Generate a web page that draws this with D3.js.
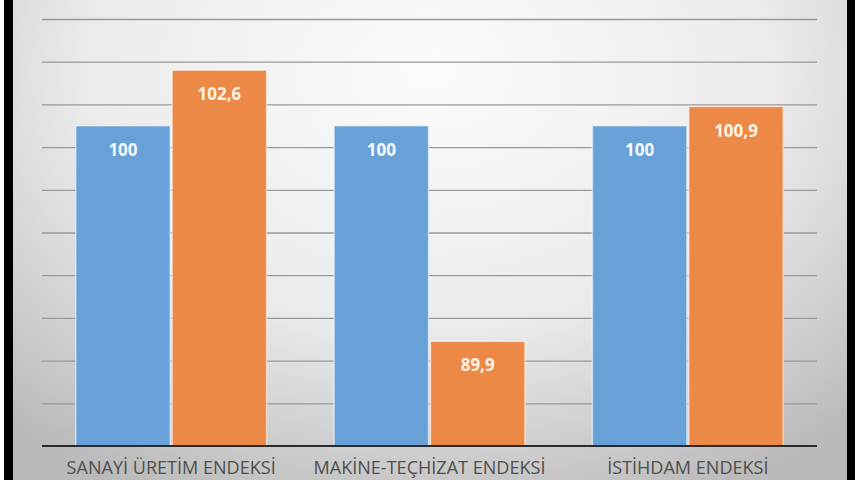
<!DOCTYPE html>
<html>
<head>
<meta charset="utf-8">
<script src="https://cdn.jsdelivr.net/npm/d3@7"></script>
<style>
  html, body { margin: 0; padding: 0; background: #fff; }
  svg { display: block; }
</style>
</head>
<body>
<div id="chart"></div>
<script>
// chart data
var categories = ["SANAYİ ÜRETİM ENDEKSİ", "MAKİNE-TEÇHİZAT ENDEKSİ", "İSTİHDAM ENDEKSİ"];
var seriesNames = ["baz", "güncel"];
var baseValues = [100, 100, 100];
var currentValues = [102.6, 89.9, 100.9];
var yTicks = [87, 89, 91, 93, 95, 97, 99, 101, 103, 105];

var width = 860, height = 480;
var margin = {top: 19, right: 43, bottom: 34, left: 42};

var svg = d3.select("#chart").append("svg")
    .attr("width", width)
    .attr("height", height);

// background gradient
var defs = svg.append("defs");
var grad = defs.append("radialGradient")
    .attr("id", "bg")
    .attr("cx", "50%").attr("cy", "15%")
    .attr("r", "75%")
    .attr("gradientTransform", "translate(0.5,0.15) scale(1,1.3) translate(-0.5,-0.15)");
grad.append("stop").attr("offset", "0%").attr("stop-color", "#fbfbfb");
grad.append("stop").attr("offset", "55%").attr("stop-color", "#ebebeb");
grad.append("stop").attr("offset", "100%").attr("stop-color", "#bababa");

svg.append("rect")
    .attr("x", 13).attr("y", 0)
    .attr("width", 834).attr("height", height)
    .attr("fill", "url(#bg)");

// black side borders
svg.append("rect").attr("x", 4).attr("y", 0).attr("width", 9).attr("height", height).attr("fill", "#000");
svg.append("rect").attr("x", 847).attr("y", 0).attr("width", 8).attr("height", height).attr("fill", "#000");

var x0 = d3.scaleBand()
    .domain(categories)
    .range([margin.left, width - margin.right])
    .padding(0);

var x1 = d3.scaleBand()
    .domain(seriesNames)
    .range([0, x0.bandwidth()])
    .paddingInner(0.02)
    .paddingOuter(0.35);

var y = d3.scaleLinear()
    .domain([85, 105])
    .range([height - margin.bottom, margin.top]);

// gridlines
var grid = svg.append("g")
    .attr("transform", "translate(" + margin.left + ",0)")
    .call(d3.axisLeft(y)
      .tickValues(yTicks)
      .tickSize(-(width - margin.left - margin.right))
      .tickFormat(""));
grid.select(".domain").remove();
grid.selectAll(".tick line")
    .attr("stroke", "#999")
    .attr("stroke-width", 1.3);

var color = d3.scaleOrdinal()
    .domain(seriesNames)
    .range(["#67a1d7", "#ec8946"]);

var rows = categories.map(function(c, i) {
  return {cat: c, vals: [
    {key: seriesNames[0], value: baseValues[i]},
    {key: seriesNames[1], value: currentValues[i]}
  ]};
});

var groups = svg.selectAll(".grp")
    .data(rows)
  .enter().append("g")
    .attr("class", "grp")
    .attr("transform", function(d) { return "translate(" + x0(d.cat) + ",0)"; });

groups.selectAll("rect")
    .data(function(d) { return d.vals; })
  .enter().append("rect")
    .attr("x", function(d) { return x1(d.key); })
    .attr("width", x1.bandwidth())
    .attr("y", function(d) { return y(d.value); })
    .attr("height", function(d) { return y(85) - y(d.value); })
    .attr("fill", function(d) { return color(d.key); })
    .attr("stroke", "rgba(255,255,255,0.55)")
    .attr("stroke-width", 1.5);

var fmt = function(v) { return d3.format("")(v).replace(".", ","); };

groups.selectAll(".val")
    .data(function(d) { return d.vals; })
  .enter().append("text")
    .attr("class", "val")
    .attr("x", function(d) { return x1(d.key) + x1.bandwidth() / 2; })
    .attr("y", function(d) { return y(d.value) + 30; })
    .attr("text-anchor", "middle")
    .attr("font-family", "Open Sans, sans-serif")
    .attr("font-weight", "bold")
    .attr("font-size", 17)
    .attr("fill", function(d, i) { return i === 0 ? "#f4f8fc" : "#fdf3e4"; })
    .text(function(d) { return fmt(d.value); });

// baseline
svg.append("line")
    .attr("x1", margin.left).attr("x2", width - margin.right)
    .attr("y1", y(85)).attr("y2", y(85))
    .attr("stroke", "#2b2b2b")
    .attr("stroke-width", 2);

// category labels
var labels = svg.append("g")
    .attr("transform", "translate(0," + (height - 6) + ")")
    .selectAll("text")
    .data(categories)
  .enter().append("text")
    .attr("x", function(d) { return x0(d) + x0.bandwidth() / 2; })
    .attr("text-anchor", "middle")
    .attr("font-family", "Open Sans, sans-serif")
    .attr("font-size", 19)
    .attr("fill", "#4f4f4f")
    .text(function(d) { return d; });

// squeeze a little, the original uses a narrow font
labels.each(function() {
  var len = this.getComputedTextLength();
  d3.select(this).attr("textLength", len * 0.95).attr("lengthAdjust", "spacingAndGlyphs");
});
</script>
</body>
</html>
